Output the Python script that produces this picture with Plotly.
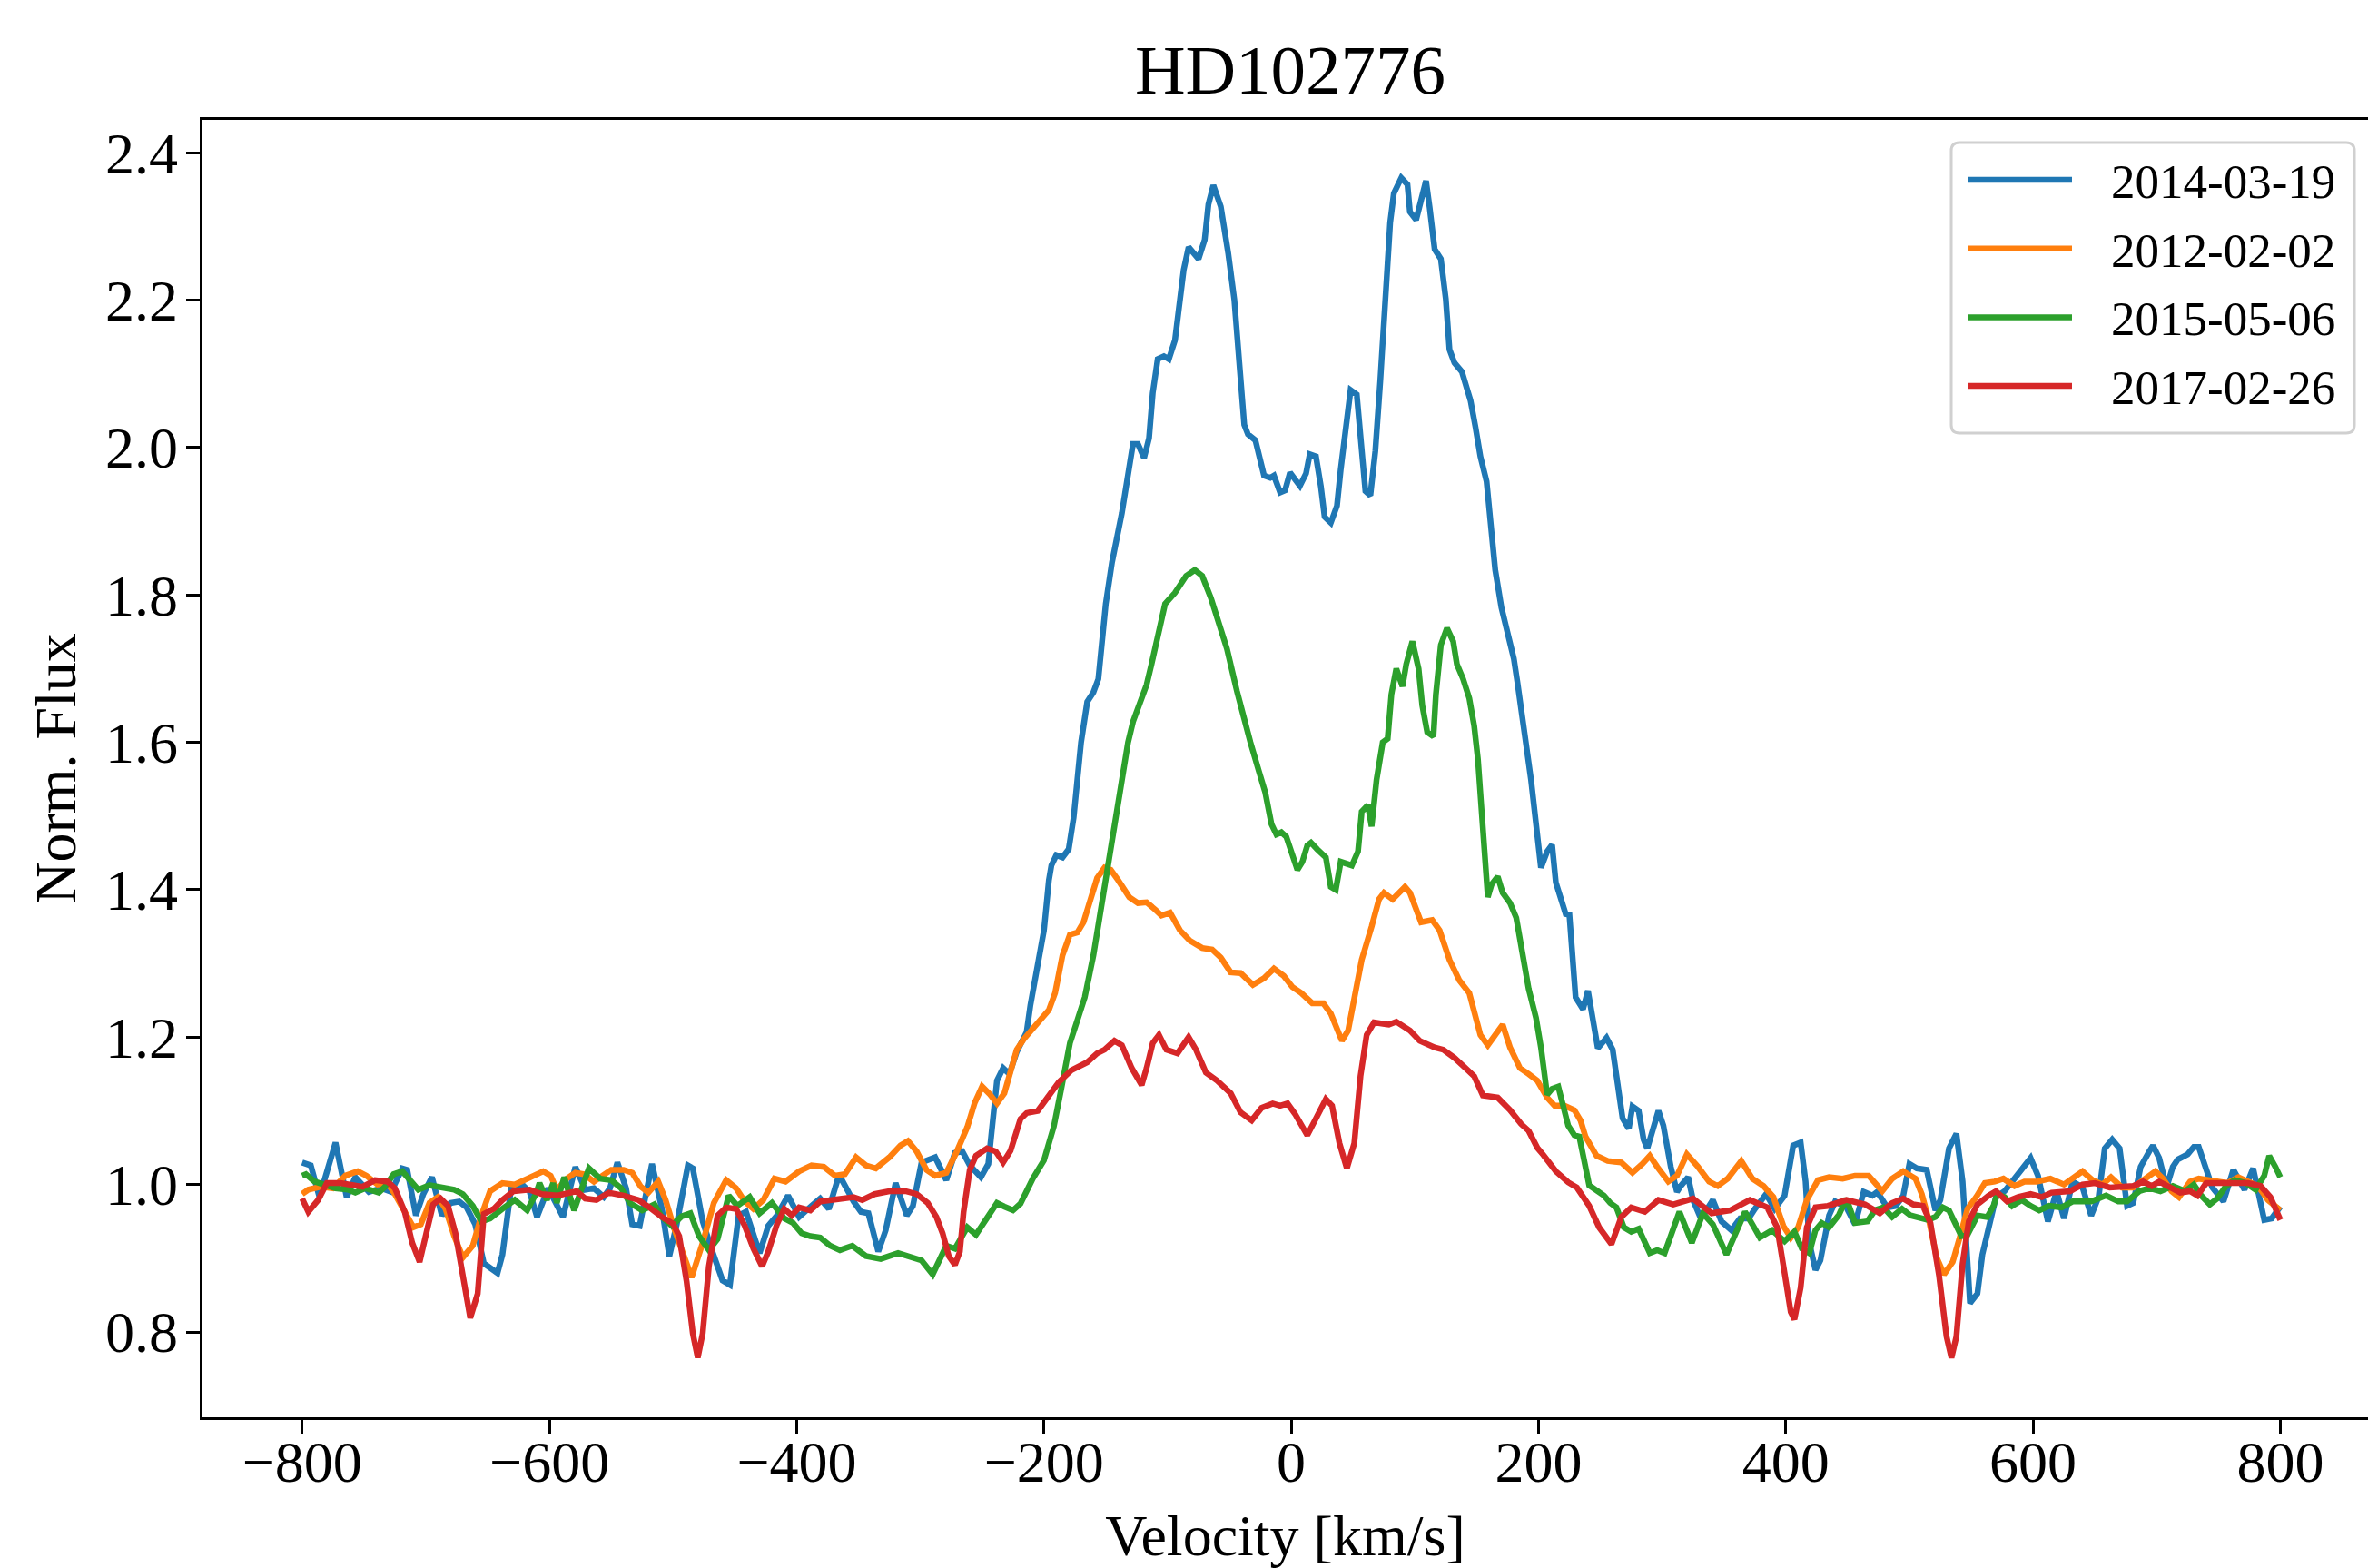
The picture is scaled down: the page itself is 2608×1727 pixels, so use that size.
import plotly.graph_objects as go

# ---------------- data ----------------
labels = ["2014-03-19", "2012-02-02", "2015-05-06", "2017-02-26"]
colors = ["#1f77b4", "#ff7f0e", "#2ca02c", "#d62728"]

vel_2014 = [-800, -793, -786, -773, -764, -757, -746, -736, -728, -719, -715, -708, -702, -695, -687, -680, -673, -667,
            -660, -653, -642, -638, -631, -622, -616, -610, -601, -595, -589, -579, -571, -564, -556, -551, -545, -538,
            -533, -527, -517, -509, -503, -497, -488, -484, -476, -469, -460, -454, -447, -441, -430, -423, -416, -407,
            -398, -388, -381, -374, -367, -364, -354, -348, -342, -334, -328, -320, -311, -306, -299, -288, -279, -272,
            -266, -260, -251, -245, -238, -233, -228, -222, -214, -211, -207, -203, -200, -196, -194, -190, -185, -180,
            -176, -170, -165, -160, -156, -150, -145, -137, -131, -128, -124, -119, -115, -112, -108, -103, -99, -94,
            -91, -87, -83, -75, -70, -67, -63, -57, -51, -46, -42, -38, -35, -29, -22, -17, -14, -9, -5, -1, 7, 12, 15,
            20, 24, 27, 32, 37, 40, 44, 48, 53, 56, 60, 64, 68, 72, 76, 80, 83, 89, 94, 96, 101, 105, 109, 112, 116,
            121, 125, 128, 132, 138, 145, 149, 153, 158, 161, 165, 170, 175, 180, 183, 188, 194, 202, 207, 211, 214,
            222, 225, 230, 236, 240, 243, 248, 255, 260, 268, 273, 276, 281, 285, 288, 297, 301, 307, 312, 315, 321,
            325, 330, 335, 341, 348, 356, 363, 370, 375, 384, 391, 399, 406, 412, 416, 419, 424, 428, 435, 440, 449,
            456, 463, 470, 474, 482, 489, 495, 500, 506, 514, 521, 525, 532, 538, 543, 549, 555, 559, 564, 570, 577,
            590, 598, 604, 612, 619, 625, 632, 640, 647, 653, 658, 664, 670, 676, 681, 687, 694, 697, 702, 708, 713,
            717, 725, 730, 734, 740, 745, 754, 762, 771, 778, 787, 793, 800]
flux_2014 = [1.030, 1.026, 0.983, 1.057, 0.983, 1.010, 0.990, 0.995, 0.990, 1.022, 1.020, 0.958, 0.987, 1.010, 0.958,
             0.975, 0.977, 0.969, 0.946, 0.893, 0.880, 0.905, 0.995, 1.000, 0.990, 0.956, 0.995, 0.975, 0.956, 1.024,
             0.993, 0.995, 0.983, 0.995, 1.030, 0.995, 0.946, 0.944, 1.028, 0.967, 0.903, 0.946, 1.026, 1.022, 0.950,
             0.913, 0.870, 0.864, 0.958, 0.963, 0.907, 0.944, 0.958, 0.985, 0.956, 0.971, 0.981, 0.967, 1.006, 1.008,
             0.977, 0.963, 0.961, 0.909, 0.938, 1.002, 0.958, 0.971, 1.030, 1.037, 1.006, 1.043, 1.045, 1.026, 1.010,
             1.028, 1.141, 1.158, 1.150, 1.180, 1.207, 1.243, 1.283, 1.311, 1.345, 1.413, 1.433, 1.447, 1.444, 1.455,
             1.498, 1.600, 1.655, 1.668, 1.686, 1.788, 1.844, 1.911, 1.972, 2.005, 2.005, 1.986, 2.013, 2.074, 2.120,
             2.124, 2.120, 2.146, 2.187, 2.241, 2.272, 2.256, 2.282, 2.330, 2.356, 2.327, 2.264, 2.200, 2.115, 2.031,
             2.018, 2.010, 1.962, 1.959, 1.962, 1.939, 1.942, 1.966, 1.948, 1.965, 1.991, 1.988, 1.947, 1.906, 1.898,
             1.921, 1.970, 2.031, 2.078, 2.072, 2.013, 1.941, 1.935, 1.995, 2.090, 2.202, 2.305, 2.345, 2.366, 2.357,
             2.320, 2.309, 2.335, 2.362, 2.325, 2.269, 2.256, 2.202, 2.133, 2.115, 2.103, 2.064, 2.028, 1.988, 1.954,
             1.895, 1.834, 1.783, 1.747, 1.714, 1.681, 1.620, 1.549, 1.430, 1.452, 1.461, 1.410, 1.367, 1.366, 1.254,
             1.238, 1.263, 1.232, 1.185, 1.199, 1.183, 1.090, 1.076, 1.106, 1.100, 1.061, 1.049, 1.100, 1.080, 1.024,
             0.990, 0.998, 1.010, 0.979, 0.959, 0.963, 0.979, 0.950, 0.938, 0.954, 0.954, 0.967, 0.987, 0.967, 0.985,
             1.053, 1.057, 1.004, 0.921, 0.884, 0.897, 0.958, 0.977, 0.969, 0.946, 0.990, 0.985, 0.990, 0.969, 0.971,
             0.985, 1.028, 1.022, 1.020, 0.965, 0.979, 1.049, 1.069, 1.004, 0.839, 0.852, 0.905, 0.938, 0.983, 0.991,
             1.020, 1.036, 1.012, 0.950, 0.991, 0.954, 1.004, 0.996, 0.958, 0.983, 1.049, 1.061, 1.049, 0.971, 0.975,
             1.024, 1.045, 1.053, 1.036, 0.996, 1.024, 1.034, 1.041, 1.051, 1.051, 1.024, 0.996, 0.977, 1.020, 0.993,
             1.022, 0.952, 0.954, 0.970]

vel_2012 = [-800, -795, -785, -775, -765, -755, -748, -739, -731, -725, -717, -710, -704, -697, -690, -684, -677, -670,
            -662, -655, -648, -638, -628, -620, -612, -605, -599, -594, -586, -579, -572, -564, -557, -550, -540, -533,
            -526, -520, -512, -506, -499, -493, -485, -476, -467, -457, -449, -442, -435, -427, -418, -409, -398, -388,
            -378, -369, -361, -352, -344, -336, -325, -316, -310, -303, -295, -288, -279, -271, -262, -256, -250, -244,
            -238, -232, -227, -222, -216, -210, -203, -196, -191, -185, -179, -173, -168, -163, -157, -151, -146, -140,
            -131, -124, -117, -110, -105, -98, -90, -82, -72, -64, -57, -49, -41, -31, -22, -14, -6, 1, 8, 17, 26, 32,
            37, 41, 46, 51, 57, 65, 71, 75, 82, 92, 96, 105, 114, 120, 128, 136, 144, 153, 159, 165, 171, 177, 185,
            192, 199, 207, 213, 221, 229, 234, 238, 247, 256, 267, 276, 284, 290, 296, 305, 312, 320, 329, 338, 345,
            353, 364, 373, 382, 390, 398, 404, 410, 417, 426, 435, 446, 456, 467, 472, 478, 486, 495, 505, 510, 516,
            522, 528, 535, 541, 547, 554, 561, 569, 576, 585, 593, 603, 614, 625, 632, 640, 648, 656, 663, 672, 681,
            691, 699, 705, 712, 718, 727, 734, 745, 757, 766, 774, 782, 790, 800]
flux_2012 = [0.987, 0.993, 0.997, 0.995, 1.012, 1.018, 1.012, 1.000, 1.002, 0.987, 0.963, 0.942, 0.946, 0.975, 0.983,
             0.967, 0.930, 0.901, 0.917, 0.958, 0.991, 1.002, 1.000, 1.006, 1.014, 1.018, 1.012, 0.993, 1.008, 1.016,
             1.014, 1.004, 1.012, 1.020, 1.020, 1.016, 0.997, 0.989, 1.004, 0.979, 0.940, 0.913, 0.874, 0.921, 0.975,
             1.006, 0.995, 0.977, 0.967, 0.979, 1.008, 1.004, 1.018, 1.026, 1.024, 1.012, 1.014, 1.037, 1.026, 1.022,
             1.037, 1.053, 1.059, 1.045, 1.020, 1.012, 1.016, 1.043, 1.078, 1.111, 1.133, 1.123, 1.110, 1.124, 1.152,
             1.183, 1.198, 1.209, 1.223, 1.237, 1.260, 1.311, 1.339, 1.342, 1.356, 1.385, 1.416, 1.430, 1.427, 1.413,
             1.390, 1.382, 1.383, 1.373, 1.365, 1.369, 1.345, 1.331, 1.321, 1.319, 1.308, 1.288, 1.287, 1.271, 1.280,
             1.293, 1.283, 1.268, 1.260, 1.246, 1.246, 1.232, 1.209, 1.195, 1.209, 1.254, 1.305, 1.350, 1.387, 1.396,
             1.387, 1.404, 1.396, 1.356, 1.359, 1.345, 1.305, 1.277, 1.260, 1.203, 1.189, 1.203, 1.217, 1.186, 1.158,
             1.150, 1.141, 1.118, 1.107, 1.107, 1.101, 1.087, 1.065, 1.039, 1.032, 1.030, 1.016, 1.028, 1.039, 1.024,
             1.004, 1.012, 1.041, 1.024, 1.004, 0.998, 1.008, 1.032, 1.008, 0.998, 0.983, 0.944, 0.928, 0.942, 0.979,
             1.006, 1.010, 1.008, 1.012, 1.012, 1.002, 0.991, 1.008, 1.018, 1.008, 0.987, 0.950, 0.901, 0.878, 0.895,
             0.930, 0.967, 0.983, 1.002, 1.004, 1.008, 0.998, 1.004, 1.004, 1.008, 1.000, 1.008, 1.018, 1.006, 1.000,
             1.010, 0.996, 0.996, 1.008, 1.018, 1.008, 0.991, 0.983, 1.004, 1.008, 1.006, 1.002, 1.010, 1.004, 0.998,
             0.979, 0.965]

vel_2015 = [-800, -797, -790, -782, -773, -763, -757, -749, -738, -733, -726, -719, -711, -706, -697, -687, -677, -670,
            -662, -655, -648, -638, -628, -618, -611, -608, -602, -597, -594, -588, -580, -573, -568, -559, -550, -542,
            -535, -525, -515, -509, -501, -493, -486, -479, -471, -464, -455, -448, -438, -430, -420, -410, -403, -396,
            -389, -381, -373, -365, -355, -344, -332, -318, -307, -299, -290, -284, -279, -272, -262, -255, -246, -238,
            -232, -225, -219, -209, -200, -192, -186, -179, -173, -167, -160, -153, -146, -138, -132, -128, -124, -117,
            -113, -105, -102, -94, -85, -78, -72, -65, -57, -52, -44, -38, -33, -26, -21, -16, -12, -8, -4, 5, 9, 13,
            16, 21, 28, 32, 36, 40, 49, 54, 57, 62, 65, 69, 74, 78, 81, 85, 90, 93, 98, 103, 106, 110, 115, 117, 121,
            126, 131, 134, 139, 144, 148, 151, 155, 159, 162, 167, 171, 177, 182, 187, 192, 198, 202, 207, 211, 216,
            221, 224, 229, 233, 241, 248, 253, 258, 263, 269, 275, 281, 290, 296, 302, 314, 324, 333, 341, 352, 358,
            367, 373, 379, 389, 399, 407, 413, 419, 424, 429, 435, 443, 449, 456, 466, 472, 479, 486, 494, 501, 508,
            515, 521, 527, 532, 537, 542, 547, 555, 563, 568, 571, 577, 583, 591, 598, 605, 613, 623, 632, 647, 659,
            669, 676, 686, 694, 703, 713, 723, 730, 736, 743, 749, 756, 763, 772, 780, 787, 791, 796, 800]
flux_2015 = [1.012, 1.014, 1.004, 0.999, 0.995, 0.993, 0.989, 0.995, 0.989, 0.997, 1.014, 1.018, 1.004, 0.993, 0.999,
             0.997, 0.993, 0.987, 0.971, 0.950, 0.954, 0.967, 0.979, 0.965, 0.987, 1.002, 0.979, 1.002, 0.975, 1.010,
             0.965, 0.999, 1.022, 1.008, 1.006, 0.995, 0.975, 0.965, 0.973, 0.956, 0.944, 0.957, 0.961, 0.930, 0.911,
             0.926, 0.985, 0.971, 0.983, 0.961, 0.975, 0.954, 0.948, 0.934, 0.930, 0.928, 0.917, 0.911, 0.917, 0.903,
             0.899, 0.907, 0.901, 0.897, 0.878, 0.897, 0.917, 0.913, 0.942, 0.932, 0.954, 0.975, 0.970, 0.965, 0.974,
             1.008, 1.033, 1.079, 1.130, 1.192, 1.223, 1.254, 1.311, 1.385, 1.458, 1.532, 1.600, 1.628, 1.648, 1.678,
             1.706, 1.763, 1.788, 1.803, 1.826, 1.834, 1.826, 1.796, 1.757, 1.727, 1.670, 1.630, 1.600, 1.560, 1.532,
             1.489, 1.475, 1.478, 1.472, 1.427, 1.438, 1.460, 1.464, 1.455, 1.444, 1.404, 1.400, 1.438, 1.433, 1.452,
             1.506, 1.515, 1.486, 1.549, 1.600, 1.605, 1.665, 1.700, 1.676, 1.706, 1.737, 1.700, 1.650, 1.614, 1.608,
             1.665, 1.732, 1.755, 1.737, 1.706, 1.686, 1.660, 1.622, 1.577, 1.481, 1.390, 1.407, 1.418, 1.396, 1.382,
             1.362, 1.311, 1.266, 1.226, 1.186, 1.122, 1.130, 1.133, 1.095, 1.080, 1.067, 1.065, 0.999, 0.991, 0.985,
             0.975, 0.969, 0.942, 0.936, 0.940, 0.907, 0.911, 0.907, 0.963, 0.921, 0.961, 0.946, 0.905, 0.930, 0.963,
             0.946, 0.928, 0.938, 0.923, 0.936, 0.913, 0.907, 0.938, 0.948, 0.942, 0.959, 0.981, 0.948, 0.950, 0.965,
             0.969, 0.956, 0.967, 0.958, 0.954, 0.952, 0.956, 0.969, 0.965, 0.946, 0.930, 0.932, 0.958, 0.956, 0.971,
             0.987, 0.983, 0.971, 0.979, 0.971, 0.965, 0.971, 0.969, 0.977, 0.977, 0.985, 0.977, 0.977, 0.991, 0.995,
             0.991, 0.998, 0.991, 1.000, 0.985, 0.973, 0.981, 0.998, 1.006, 1.002, 0.993, 1.012, 1.039, 1.024, 1.010]

vel_2017 = [-800, -795, -787, -780, -769, -760, -751, -741, -731, -725, -717, -711, -705, -699, -694, -688, -682, -676,
            -670, -664, -658, -653, -645, -638, -629, -616, -606, -594, -578, -571, -562, -552, -540, -528, -519, -509,
            -500, -495, -489, -484, -480, -476, -471, -464, -457, -449, -442, -435, -428, -423, -416, -410, -404, -398,
            -389, -381, -372, -363, -354, -347, -337, -325, -312, -303, -294, -287, -282, -277, -272, -268, -265, -260,
            -255, -246, -239, -233, -227, -219, -214, -205, -197, -188, -178, -165, -157, -151, -143, -137, -129, -121,
            -117, -112, -107, -101, -92, -83, -77, -69, -60, -49, -41, -32, -24, -15, -9, -3, 3, 13, 21, 28, 33, 39,
            45, 51, 56, 61, 67, 79, 85, 96, 104, 116, 123, 132, 141, 148, 155, 167, 177, 186, 192, 199, 204, 214, 224,
            231, 241, 249, 259, 267, 275, 286, 297, 309, 325, 340, 355, 371, 385, 393, 399, 404, 407, 412, 417, 424,
            434, 449, 464, 476, 486, 495, 503, 511, 517, 524, 530, 534, 538, 543, 548, 555, 564, 570, 579, 588, 598,
            607, 615, 630, 640, 650, 662, 672, 681, 689, 696, 702, 711, 719, 727, 733, 740, 750, 762, 774, 784, 792,
            800]
flux_2017 = [0.981, 0.963, 0.979, 1.002, 1.002, 1.000, 0.997, 1.006, 1.004, 0.995, 0.963, 0.921, 0.895, 0.938, 0.973,
             0.981, 0.971, 0.934, 0.872, 0.819, 0.852, 0.960, 0.967, 0.979, 0.991, 0.993, 0.987, 0.985, 0.991, 0.981,
             0.979, 0.989, 0.985, 0.979, 0.969, 0.956, 0.947, 0.930, 0.868, 0.798, 0.765, 0.798, 0.889, 0.958, 0.969,
             0.967, 0.944, 0.913, 0.889, 0.909, 0.946, 0.967, 0.958, 0.969, 0.965, 0.977, 0.979, 0.981, 0.983, 0.979,
             0.987, 0.991, 0.991, 0.987, 0.975, 0.956, 0.934, 0.903, 0.891, 0.909, 0.963, 1.020, 1.039, 1.049, 1.045,
             1.030, 1.046, 1.089, 1.097, 1.100, 1.120, 1.139, 1.155, 1.166, 1.178, 1.183, 1.195, 1.189, 1.158, 1.135,
             1.158, 1.192, 1.203, 1.183, 1.178, 1.200, 1.183, 1.152, 1.141, 1.124, 1.098, 1.087, 1.104, 1.110, 1.107,
             1.110, 1.096, 1.067, 1.093, 1.116, 1.107, 1.056, 1.022, 1.056, 1.147, 1.203, 1.220, 1.217, 1.221, 1.209,
             1.195, 1.186, 1.183, 1.172, 1.158, 1.147, 1.121, 1.118, 1.101, 1.082, 1.073, 1.050, 1.040, 1.018, 1.003,
             0.996, 0.971, 0.942, 0.919, 0.956, 0.969, 0.963, 0.979, 0.973, 0.981, 0.961, 0.965, 0.979, 0.969, 0.942,
             0.880, 0.827, 0.817, 0.860, 0.942, 0.969, 0.971, 0.979, 0.973, 0.961, 0.975, 0.981, 0.973, 0.971, 0.948,
             0.876, 0.794, 0.765, 0.794, 0.893, 0.950, 0.973, 0.985, 0.991, 0.977, 0.983, 0.987, 0.983, 0.989, 0.991,
             1.000, 1.002, 0.996, 0.996, 0.998, 1.004, 0.998, 1.004, 0.996, 0.989, 0.991, 0.985, 1.002, 1.002, 1.002,
             1.002, 0.998, 0.983, 0.952]

x_ticks = [-800, -600, -400, -200, 0, 200, 400, 600, 800]
y_ticks = [0.8, 1.0, 1.2, 1.4, 1.6, 1.8, 2.0, 2.2, 2.4]

# ---------------- figure ----------------
W, H = 2608, 1727
ML, MR, MT, MB = 223, 0, 132, 166
FONT = "Liberation Serif, Times New Roman, serif"

series = [(vel_2014, flux_2014), (vel_2012, flux_2012), (vel_2015, flux_2015), (vel_2017, flux_2017)]

fig = go.Figure()
for (v, f), name, c in zip(series, labels, colors):
    fig.add_trace(go.Scatter(x=v, y=f, mode="lines", name=name,
                             line=dict(color=c, width=6.5), showlegend=False))

axis_common = dict(showgrid=False, zeroline=False, showline=True, linecolor="black", linewidth=3.3,
                   ticks="outside", ticklen=15, tickwidth=3.3, tickcolor="black", automargin=False,
                   tickfont=dict(family=FONT, size=64, color="black"))

fig.update_layout(
    width=W, height=H,
    margin=dict(l=ML, r=MR, t=MT, b=MB, pad=0),
    paper_bgcolor="white", plot_bgcolor="white",
    font=dict(family=FONT, color="black"),
    title=dict(text="HD102776", font=dict(family=FONT, size=77, color="black"),
               x=0.5023, xref="paper", xanchor="center", y=1 - 76 / H, yref="container", yanchor="middle"),
    xaxis=dict(range=[-880.6, 870.9], tickvals=x_ticks, mirror=True, ticklabelstandoff=-24,
               title=dict(text="Velocity [km/s]", font=dict(family=FONT, size=64, color="black"), standoff=35),
               **axis_common),
    yaxis=dict(range=[0.6842, 2.4447], tickvals=y_ticks, tickformat=".1f", ticklabelstandoff=-4,
               title=dict(text="Norm. Flux", font=dict(family=FONT, size=64, color="black"), standoff=12),
               **axis_common),
)

# ---------------- legend (matplotlib-style, drawn in paper coordinates) ----------------
PW, PH = W - ML - MR, H - MT - MB


def px(xp):
    return (xp - ML) / PW


def py(yp):
    return (H - MB - yp) / PH


bx0, bx1, by0, by1, rad = 2149, 2593, 157, 477, 9
path = (f"M {px(bx0 + rad)},{py(by0)} L {px(bx1 - rad)},{py(by0)} "
        f"Q {px(bx1)},{py(by0)} {px(bx1)},{py(by0 + rad)} L {px(bx1)},{py(by1 - rad)} "
        f"Q {px(bx1)},{py(by1)} {px(bx1 - rad)},{py(by1)} L {px(bx0 + rad)},{py(by1)} "
        f"Q {px(bx0)},{py(by1)} {px(bx0)},{py(by1 - rad)} L {px(bx0)},{py(by0 + rad)} "
        f"Q {px(bx0)},{py(by0)} {px(bx0 + rad)},{py(by0)} Z")
fig.add_shape(type="path", path=path, xref="paper", yref="paper",
              line=dict(color="#d0d0d0", width=3), fillcolor="rgba(255,255,255,0.85)", layer="above")

row0, row_step = 198, 75.7
for i, (name, c) in enumerate(zip(labels, colors)):
    yy = row0 + i * row_step
    fig.add_shape(type="line", xref="paper", yref="paper", x0=px(2168), x1=px(2282), y0=py(yy), y1=py(yy),
                  line=dict(color=c, width=6.5), layer="above")
    fig.add_annotation(text=name, xref="paper", yref="paper", x=px(2323), y=py(yy + 2),
                       xanchor="left", yanchor="middle", showarrow=False,
                       font=dict(family=FONT, size=53, color="black"))

# remove the browser's default 8px body margin so the 2608x1727 figure fills the window exactly
fig.write_html("out.html", config={"displayModeBar": False},
               post_script="document.body.style.margin='0';document.body.style.overflow='hidden';")
